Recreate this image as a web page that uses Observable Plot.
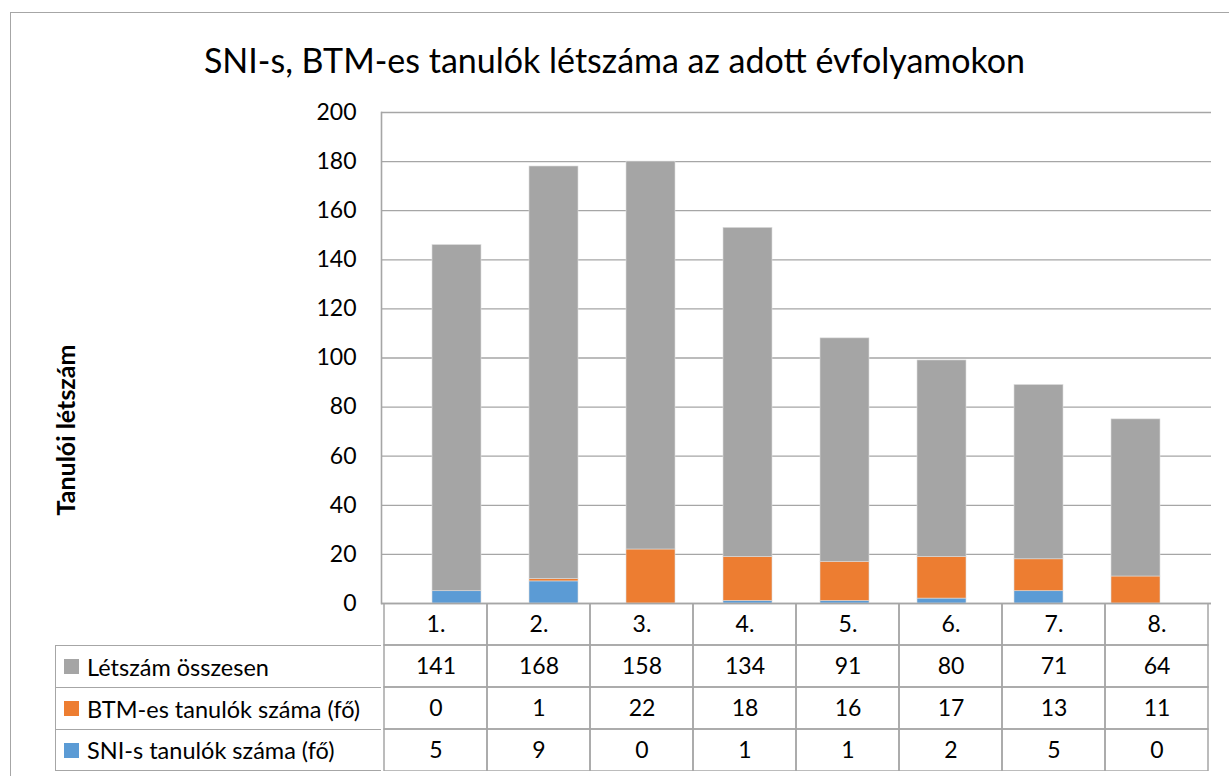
<!DOCTYPE html>
<html>
<head>
<meta charset="utf-8">
<script src="https://cdn.jsdelivr.net/npm/d3@7"></script>
<script src="https://cdn.jsdelivr.net/npm/@observablehq/plot@0.6"></script>
<style>
  html, body { margin: 0; padding: 0; background: #fff; }
  body { width: 1229px; height: 776px; position: relative; overflow: hidden; font-family: Lato, "Open Sans", sans-serif; color: #000; }
  #border { position: absolute; left: 10px; top: 12px; width: 1230px; height: 780px; border: 1.5px solid #a6a6a6; box-sizing: border-box; }
  #title { position: absolute; left: 0; width: 1229px; top: 38px; text-align: center; font-size: 34px; line-height: 44px; }
  #ylabel { position: absolute; left: 65px; top: 430px; transform: translate(-50%, -50%) rotate(-90deg); font-weight: bold; font-size: 25px; white-space: nowrap; }
  #chart, #table { position: absolute; left: 0; }
  #chart { top: 0; }
  #table { top: 603px; }
  #labels { position: absolute; left: 55px; top: 645px; width: 326px; }
  .lrow { height: 42px; box-sizing: border-box; border: 1.5px solid #a6a6a6; border-right: none; border-bottom: none; display: flex; align-items: center; font-size: 23.5px; }
  .lrow:last-child { border-bottom: 1.5px solid #a6a6a6; }
  .sw { width: 15px; height: 15px; margin-left: 8px; margin-right: 8px; flex: none; }
</style>
</head>
<body>
<div id="border"></div>
<div id="title">SNI-s, BTM-es tanulók létszáma az adott évfolyamokon</div>
<div id="ylabel"></div>
<div id="chart"></div>
<div id="table"></div>
<div id="labels"></div>
<script>
const categories = ["1.", "2.", "3.", "4.", "5.", "6.", "7.", "8."];
const sniValues = [5, 9, 0, 1, 1, 2, 5, 0];
const btmValues = [0, 1, 22, 18, 16, 17, 13, 11];
const letszamValues = [141, 168, 158, 134, 91, 80, 71, 64];
const seriesNames = ["SNI-s tanulók száma (fő)", "BTM-es tanulók száma (fő)", "Létszám összesen"];
const seriesColors = ["#5b9bd5", "#ed7d31", "#a5a5a5"];
const yTicks = [0, 20, 40, 60, 80, 100, 120, 140, 160, 180, 200];
const yLabel = "Tanulói létszám";
// table rows order (top to bottom)
const tableRowOrder = ["Létszám összesen", "BTM-es tanulók száma (fő)", "SNI-s tanulók száma (fő)"];

document.getElementById("ylabel").textContent = yLabel;

const seriesValues = [sniValues, btmValues, letszamValues];
const barData = [];
seriesNames.forEach((s, si) => categories.forEach((c, ci) => barData.push({cat: c, series: s, value: seriesValues[si][ci]})));

const gridColor = "#a6a6a6";
const fontFam = "Lato, 'Open Sans', sans-serif";

const chart = Plot.plot({
  width: 1229,
  height: 620,
  marginLeft: 381,
  marginRight: 18,
  marginTop: 112,
  marginBottom: 17,
  style: {fontFamily: fontFam, fontSize: "23px", color: "#000", background: "transparent"},
  x: {type: "band", domain: categories, padding: 0.49, axis: null},
  y: {domain: [0, 200], ticks: yTicks},
  color: {domain: seriesNames, range: seriesColors},
  marks: [
    Plot.gridY(yTicks, {stroke: gridColor, strokeOpacity: 1, strokeWidth: 1.3}),
    Plot.axisY(yTicks, {tickSize: 0, tickPadding: 25, label: null, fontSize: 23}),
    Plot.barY(barData, {x: "cat", y: "value", fill: "series", order: seriesNames, stroke: "#dcdcdc", strokeWidth: 0.6}),
    Plot.ruleY([0], {stroke: gridColor, strokeWidth: 1.6}),
    Plot.frame({anchor: "left", stroke: gridColor, strokeWidth: 1.6})
  ]
});
document.getElementById("chart").appendChild(chart);

// data table beneath the chart, sharing the same band scale
const rowKeys = ["cat", ...tableRowOrder];
const tableData = [];
categories.forEach((c, ci) => {
  tableData.push({cat: c, row: "cat", text: c});
  tableRowOrder.forEach(r => {
    const si = seriesNames.indexOf(r);
    tableData.push({cat: c, row: r, text: String(seriesValues[si][ci])});
  });
});

const table = Plot.plot({
  width: 1229,
  height: 168,
  marginLeft: 381,
  marginRight: 18,
  marginTop: 0,
  marginBottom: 0,
  style: {fontFamily: fontFam, fontSize: "23px", color: "#000", background: "transparent"},
  x: {type: "band", domain: categories, padding: 0, axis: null},
  y: {type: "band", domain: rowKeys, padding: 0, axis: null},
  marks: [
    Plot.cell(tableData, {x: "cat", y: "row", fill: "none", stroke: gridColor, strokeWidth: 1.5}),
    Plot.text(tableData, {x: "cat", y: "row", text: "text", fontSize: 23, fill: "#000"})
  ]
});
document.getElementById("table").appendChild(table);

const labels = document.getElementById("labels");
tableRowOrder.forEach(r => {
  const si = seriesNames.indexOf(r);
  const row = document.createElement("div");
  row.className = "lrow";
  const sw = document.createElement("span");
  sw.className = "sw";
  sw.style.background = seriesColors[si];
  const t = document.createElement("span");
  t.textContent = r;
  row.appendChild(sw);
  row.appendChild(t);
  labels.appendChild(row);
});
</script>
</body>
</html>
